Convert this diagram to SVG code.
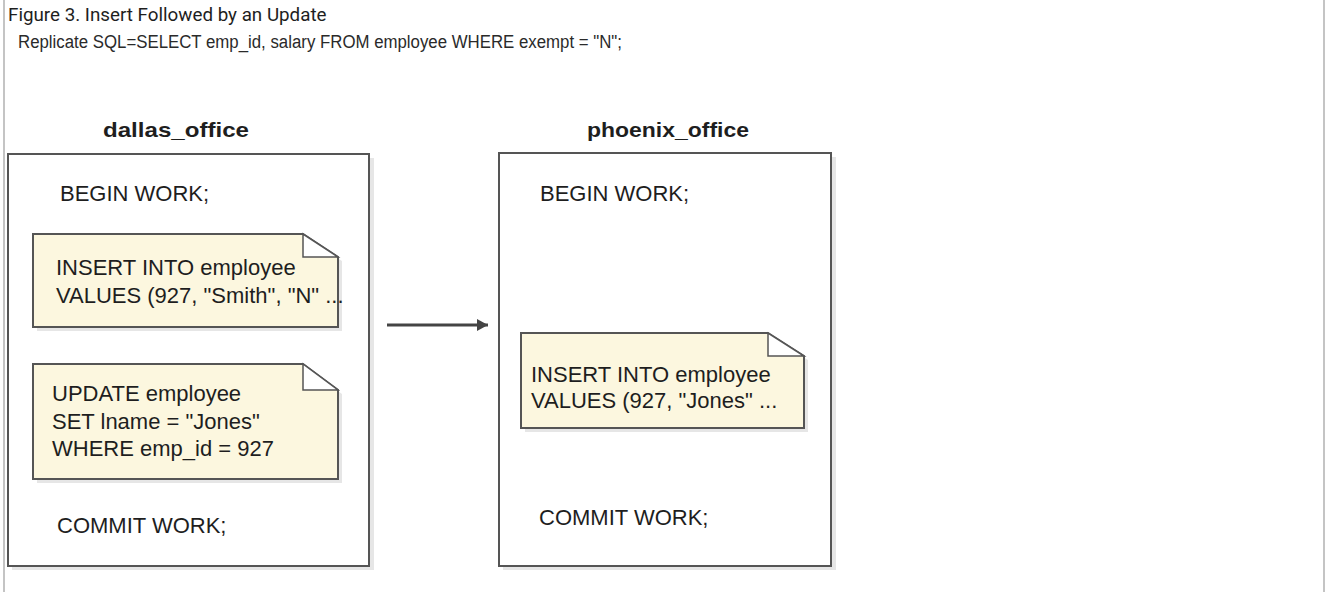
<svg xmlns="http://www.w3.org/2000/svg" width="1326" height="592" viewBox="0 0 1326 592">
  <style>
    .frame { stroke: #c4c4c4; stroke-width: 2; }
    .title { font-family: Roboto, "Liberation Sans", sans-serif; font-size: 18.8px; fill: #1e1e1e; }
    .sub { font-family: "Liberation Sans", Arial, sans-serif; font-size: 18px; fill: #2a2a2a; }
    .label { font-family: "Liberation Sans", Arial, sans-serif; font-size: 21px; font-weight: bold; fill: #1e1e1e; text-anchor: middle; }
    .t { font-family: "Liberation Sans", Arial, sans-serif; font-size: 22px; fill: #1e1e1e; }
    .box { fill: #ffffff; stroke: #555555; stroke-width: 2; }
    .shadow { fill: #e6e6e6; }
    .note { fill: #fcf7df; stroke: #555555; stroke-width: 2; stroke-linejoin: miter; }
    .fold { fill: #ffffff; stroke: #555555; stroke-width: 1.5; }
    .conn { stroke: #444444; stroke-width: 3; fill: none; }
  </style>
  <defs>
    <marker id="arrow" markerWidth="12" markerHeight="12" refX="11" refY="6" orient="auto" markerUnits="userSpaceOnUse">
      <path d="M0,0 L11,6 L0,12 Z" fill="#444444"/>
    </marker>
  </defs>

  <rect width="1326" height="592" fill="#ffffff"/>
  <!-- page frame -->
  <line class="frame" x1="4" y1="0" x2="4" y2="592"/>
  <line class="frame" x1="1324" y1="0" x2="1324" y2="592"/>

  <text class="title" x="8" y="21">Figure 3. Insert Followed by an Update</text>
  <text class="sub" x="18" y="48" textLength="604" lengthAdjust="spacingAndGlyphs">Replicate SQL=SELECT emp_id, salary FROM employee WHERE exempt = "N";</text>

  <!-- dallas_office server -->
  <g id="dallas_office">
    <text class="label" x="176" y="137" textLength="146" lengthAdjust="spacingAndGlyphs">dallas_office</text>
    <rect class="shadow" x="12" y="158" width="362" height="412"/>
    <rect class="box" x="8" y="154" width="361" height="412"/>
    <text class="t" x="60" y="201">BEGIN WORK;</text>
    <text class="t" x="57" y="533">COMMIT WORK;</text>
  </g>

  <g id="dallas_insert">
    <path class="shadow" d="M37,238 H307 L342,261 V331 H37 Z"/>
    <path class="note" d="M33,234 H303 L338,257 V327 H33 Z"/>
    <path class="fold" d="M303,234 V257 H338 Z"/>
    <text class="t" x="56" y="275">INSERT INTO employee</text>
    <text class="t" x="56" y="303">VALUES (927, "Smith", "N" ...</text>
  </g>

  <g id="dallas_update">
    <path class="shadow" d="M37,368 H307 L342,394 V483 H37 Z"/>
    <path class="note" d="M33,364 H303 L338,390 V479 H33 Z"/>
    <path class="fold" d="M303,364 V390 H338 Z"/>
    <text class="t" x="52" y="401">UPDATE employee</text>
    <text class="t" x="52" y="429">SET lname = "Jones"</text>
    <text class="t" x="52" y="456">WHERE emp_id = 927</text>
  </g>

  <!-- phoenix_office server -->
  <g id="phoenix_office">
    <text class="label" x="668" y="137" textLength="162" lengthAdjust="spacingAndGlyphs">phoenix_office</text>
    <rect class="shadow" x="503" y="157" width="333" height="413"/>
    <rect class="box" x="499" y="153" width="332" height="413"/>
    <text class="t" x="540" y="201">BEGIN WORK;</text>
    <text class="t" x="539" y="525">COMMIT WORK;</text>
  </g>

  <g id="phoenix_insert">
    <path class="shadow" d="M525,337 H772 L808,360 V432 H525 Z"/>
    <path class="note" d="M521,333 H768 L804,356 V428 H521 Z"/>
    <path class="fold" d="M768,333 V356 H804 Z"/>
    <text class="t" x="531" y="382">INSERT INTO employee</text>
    <text class="t" x="531" y="408">VALUES (927, "Jones" ...</text>
  </g>

  <!-- replication connector -->
  <g id="connectors">
    <line class="conn" x1="387" y1="325" x2="488" y2="325" marker-end="url(#arrow)"/>
  </g>
</svg>
